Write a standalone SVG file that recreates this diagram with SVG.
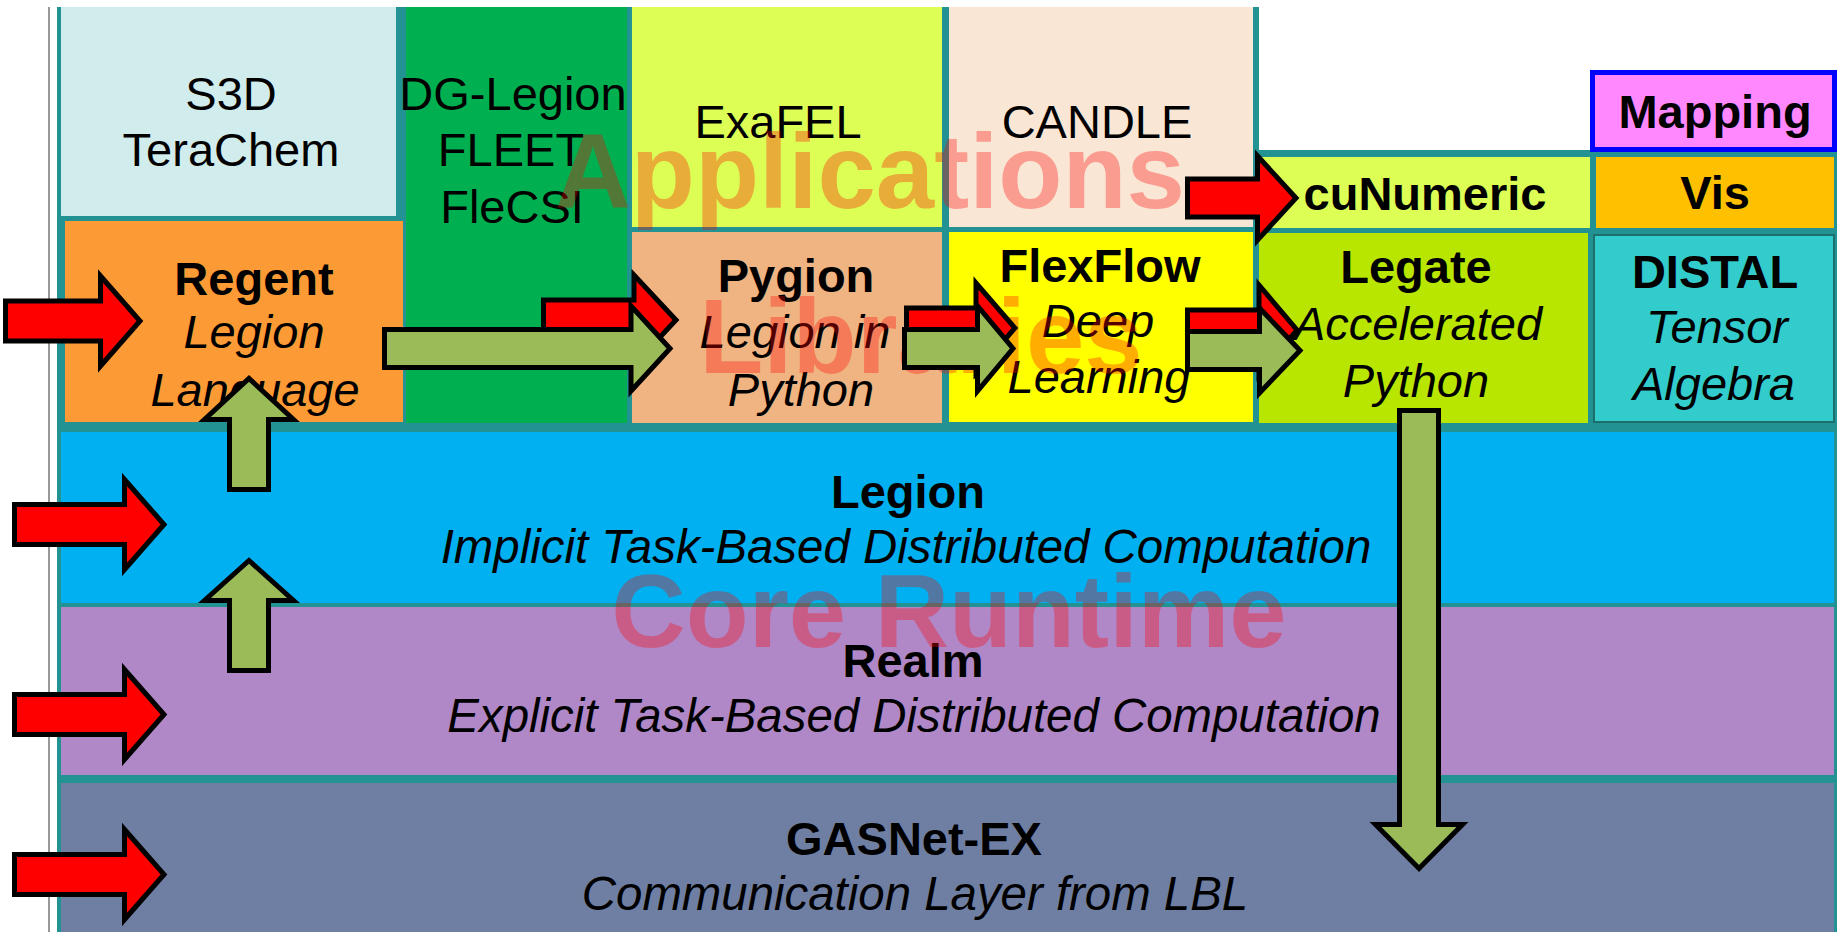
<svg xmlns="http://www.w3.org/2000/svg" width="1837" height="932" viewBox="0 0 1837 932">
<style>
.t{font-family:"Liberation Sans",Arial,sans-serif;font-size:47px;fill:#000;text-anchor:middle}
.b{font-weight:bold}
.i{font-style:italic}
.wm{font-family:"Liberation Sans",Arial,sans-serif;font-weight:bold;fill:#FF0000;fill-opacity:0.32;text-anchor:middle}
.red{fill:#FF0000;stroke:#000;stroke-width:5;stroke-linejoin:miter}
.grn{fill:#9BBB59;stroke:#000;stroke-width:5;stroke-linejoin:miter}
</style>
<rect x="0" y="0" width="1837" height="932" fill="#FFFFFF"/>
<line x1="49" y1="7" x2="49" y2="932" stroke="#333" stroke-width="1"/>
<polygon id="frame" points="57,7 1259,7 1259,150 1837,150 1837,932 57,932" fill="#239292"/>

<g id="s3d"><rect x="61" y="7" width="335" height="209" fill="#D0ECEC"/>
<text class="t" x="231" y="110">S3D</text><text class="t" x="231" y="166">TeraChem</text></g>
<g id="dglegion"><rect x="406" y="7" width="221" height="416" fill="#00B050"/>
<text class="t" x="513" y="110">DG-Legion</text><text class="t" x="511" y="166">FLEET</text><text class="t" x="512" y="223">FleCSI</text></g>
<g id="exafel"><rect x="632" y="7" width="310" height="220" fill="#DDFF55"/>
<text class="t" x="778" y="138">ExaFEL</text></g>
<g id="candle"><rect x="949" y="7" width="304" height="220" fill="#F9E6D4"/>
<text class="t" x="1097" y="138">CANDLE</text></g>
<g id="regent"><rect x="65" y="221" width="338" height="201" fill="#FC9A35"/>
<text class="t b" x="254" y="295">Regent</text><text class="t i" x="254" y="348">Legion</text><text class="t i" x="255" y="406">Language</text></g>
<g id="pygion"><rect x="632" y="232" width="310" height="191" fill="#F0B482"/>
<text class="t b" x="796" y="292">Pygion</text><text class="t i" x="795" y="348">Legion in</text><text class="t i" x="801" y="406">Python</text></g>
<g id="flexflow"><rect x="949" y="232" width="304" height="190" fill="#FFFF00"/>
<text class="t b" x="1100" y="282">FlexFlow</text><text class="t i" x="1098" y="337">Deep</text><text class="t i" x="1099" y="393">Learning</text></g>
<g id="cunumeric"><rect x="1259" y="157" width="331" height="71" fill="#DDFF55"/>
<text class="t b" x="1425" y="210">cuNumeric</text></g>
<g id="mapping"><rect x="1592.5" y="72.5" width="242" height="77" fill="#FF88FF" stroke="#0000FF" stroke-width="5"/>
<text class="t b" x="1715" y="128">Mapping</text></g>
<g id="vis"><rect x="1596" y="157" width="238" height="71" fill="#FFC000"/>
<text class="t b" x="1715" y="209">Vis</text></g>
<g id="legate"><rect x="1259" y="233" width="329" height="190" fill="#B9E600"/>
<text class="t b" x="1416" y="283">Legate</text><text class="t i" x="1418" y="340">Accelerated</text><text class="t i" x="1416" y="397">Python</text></g>
<g id="distal"><rect x="1594" y="235" width="240" height="187" fill="#33CCCC" stroke="#1F6E6E" stroke-width="2"/>
<text class="t b" x="1715" y="288">DISTAL</text><text class="t i" x="1717" y="343">Tensor</text><text class="t i" x="1714" y="400">Algebra</text></g>
<g id="legion"><rect x="61" y="432" width="1773" height="171" fill="#00B0F0"/>
<text class="t b" x="908" y="508">Legion</text><text class="t i" x="906" y="563" style="font-size:47.4px">Implicit Task-Based Distributed Computation</text></g>
<g id="realm"><rect x="61" y="607" width="1773" height="168" fill="#B088C8"/>
<text class="t b" x="913" y="677">Realm</text><text class="t i" x="914" y="732" style="font-size:47.4px">Explicit Task-Based Distributed Computation</text></g>
<g id="gasnet"><rect x="61" y="783" width="1773" height="149" fill="#6F7FA3"/>
<text class="t b" x="914" y="855">GASNet-EX</text><text class="t i" x="915" y="910" style="font-size:47.4px">Communication Layer from LBL</text></g>

<g id="watermarks">
<text class="wm" x="870" y="208" font-size="105">Applications</text>
<text class="wm" x="921" y="373" font-size="105">Libraries</text>
<text class="wm" x="949" y="647" font-size="103">Core Runtime</text>
</g>

<g id="connectors">
<polygon class="red" points="5.5,301 100.5,301 100.5,276 140,321 100.5,366 100.5,341 5.5,341"/>
<polygon class="red" points="14.5,504.5 124.5,504.5 124.5,479.5 164,524.5 124.5,569.5 124.5,544.5 14.5,544.5"/>
<polygon class="red" points="14.5,694.5 124.5,694.5 124.5,669.5 164,714.5 124.5,759.5 124.5,734.5 14.5,734.5"/>
<polygon class="red" points="14.5,854.5 124.5,854.5 124.5,829.5 164,874.5 124.5,919.5 124.5,894.5 14.5,894.5"/>
<polygon class="red" points="543.5,300 634,300 634,275 676,320 634,365 634,340 543.5,340"/>
<polygon class="red" points="906.5,308 976,308 976,283 1015,328 976,373 976,348 906.5,348"/>
<polygon class="red" points="1187.5,310 1259,310 1259,285 1297,330 1259,375 1259,350 1187.5,350"/>
<polygon class="red" points="1187.5,179 1257.5,179 1257.5,156 1296,198 1257.5,240 1257.5,217 1187.5,217"/>
<polygon class="grn" points="384.5,329.5 631,329.5 631,306 670,348.5 631,391 631,367.5 384.5,367.5"/>
<polygon class="grn" points="904.5,329.5 977.5,329.5 977.5,306 1013,348.5 977.5,391 977.5,367.5 904.5,367.5"/>
<polygon class="grn" points="1187.5,331.5 1259.5,331.5 1259.5,308 1300,350.5 1259.5,393 1259.5,369.5 1187.5,369.5"/>
<polygon class="grn" points="229.5,489.5 229.5,419.5 204.5,419.5 249,378.5 293.5,419.5 268.5,419.5 268.5,489.5"/>
<polygon class="grn" points="229.5,670.5 229.5,600.5 204.5,600.5 249,560.5 293.5,600.5 268.5,600.5 268.5,670.5"/>
<polygon class="grn" points="1399.5,410.5 1438.5,410.5 1438.5,824.5 1462.5,824.5 1419,868.5 1375.5,824.5 1399.5,824.5"/>
</g>
</svg>
